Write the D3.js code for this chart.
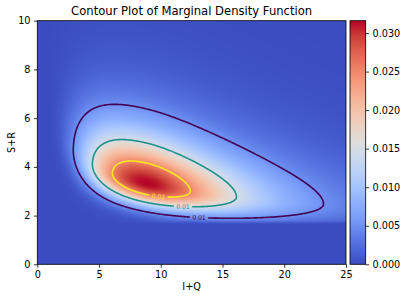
<!DOCTYPE html>
<html>
<head>
<meta charset="utf-8">
<script src="https://cdnjs.cloudflare.com/ajax/libs/d3/7.8.5/d3.min.js"></script>
<style>
  body { margin: 0; background: #fff; }
  svg text { font-family: "DejaVu Sans", sans-serif; fill: #000; }
  .axis line { stroke: #000; stroke-width: 0.8px; }
  .axis text { font-size: 9.7px; }
</style>
</head>
<body>
<script>
// axes
var xDomain = [0, 25], yDomain = [0, 10];
var xTicks = [0, 5, 10, 15, 20, 25];
var yTicks = [0, 2, 4, 6, 8, 10];
var colorTicks = [0, 0.005, 0.010, 0.015, 0.020, 0.025, 0.030];
var densityMax = 0.0316;

// density (log space): mode, spreads, ridge tilt, tail, floor cut
var logMode = [2.19, 1.198];                   // ln(I+Q), ln(S+R)
var logSpread = [0.587, 0.499, 0.342, 0.228];  // left, right, above ridge, below ridge
var ridgeSlope = -0.305;
var ridgeWiden = 0.2;                          // ridge spread grows with I+Q
var tailDf = 20;
var floorSR = [1.72, 0.03];                    // S+R of the cut, softness

var contourLevels = [0.005, 0.015, 0.025];
var contourLabels = ["0.01", "0.01", "0.02"];
var labelAt = [13.1, 11.8, 9.8];               // I+Q of each label on the lower branch

// styles
var contourColors = ["#440154", "#21918c", "#fde725"];
var coolwarm = ["#3b4cc0", "#4d68d7", "#6282ea", "#7a9df8", "#8db0fe", "#a3c2ff",
                "#b8d0f9", "#ccd9ee", "#dddddd", "#ecd3c5", "#f5c4ac", "#f7b194",
                "#f49a7b", "#ec7f63", "#de604d", "#cb3e38", "#b40426"];

var W = 405, H = 299;
var plot = {left: 37.3, top: 20.7, right: 346, bottom: 264.3};
var bar = {left: 350, right: 365.7};

var x = d3.scaleLinear().domain(xDomain).range([plot.left, plot.right]);
var y = d3.scaleLinear().domain(yDomain).range([plot.bottom, plot.top]);
var cb = d3.scaleLinear().domain([0, densityMax]).range([plot.bottom, plot.top]);
var color = d3.scaleLinear()
    .domain(coolwarm.map((d, i) => densityMax * i / (coolwarm.length - 1)))
    .range(coolwarm)
    .interpolate(d3.interpolateRgb)
    .clamp(true);

function density(xv, yv) {
  if (xv <= 0 || yv <= 0) return 0;
  var du = Math.log(xv) - logMode[0];
  var a = du / (du < 0 ? logSpread[0] : logSpread[1]);
  var res = Math.log(yv) - logMode[1] - ridgeSlope * du;
  var s = (res > 0 ? logSpread[2] : logSpread[3]) * Math.max(0.3, 1 + ridgeWiden * du);
  var b = res / s;
  var f = densityMax * Math.pow(1 + (a * a + b * b) / tailDf, -(tailDf + 2) / 2);
  return f / (1 + Math.exp(-(yv - floorSR[0]) / floorSR[1]));
}

var svg = d3.select("body").append("svg")
    .attr("width", W)
    .attr("height", H);

// heatmap, one pixel at a time
function raster(w, h, fill) {
  var canvas = document.createElement("canvas");
  canvas.width = w; canvas.height = h;
  var ctx = canvas.getContext("2d");
  var img = ctx.createImageData(w, h);
  for (var j = 0; j < h; j++) {
    for (var i = 0; i < w; i++) {
      var col = d3.rgb(fill(i, j));
      var k = 4 * (j * w + i);
      img.data[k] = col.r; img.data[k + 1] = col.g; img.data[k + 2] = col.b; img.data[k + 3] = 255;
    }
  }
  ctx.putImageData(img, 0, 0);
  return canvas.toDataURL();
}

var pw = Math.round(plot.right - plot.left), ph = Math.round(plot.bottom - plot.top);
svg.append("image")
    .attr("x", plot.left).attr("y", plot.top)
    .attr("width", plot.right - plot.left).attr("height", plot.bottom - plot.top)
    .attr("preserveAspectRatio", "none")
    .attr("href", raster(pw, ph, (i, j) => {
      var xv = x.invert(plot.left + (i + 0.5) * (plot.right - plot.left) / pw);
      var yv = y.invert(plot.top + (j + 0.5) * (plot.bottom - plot.top) / ph);
      return color(density(xv, yv));
    }));

// contour lines
var nx = 501, ny = 201;
var gx = d3.scaleLinear().domain([0, nx - 1]).range(xDomain);
var gy = d3.scaleLinear().domain([0, ny - 1]).range(yDomain);
var values = new Float64Array(nx * ny);
for (var j = 0; j < ny; j++)
  for (var i = 0; i < nx; i++)
    values[j * nx + i] = density(gx(i), gy(j));

var sets = d3.contours().size([nx, ny]).thresholds(contourLevels)(values);
var path = d3.geoPath(d3.geoTransform({
  point: function(px, py) { this.stream.point(x(gx(px - 0.5)), y(gy(py - 0.5))); }
}));

function lowerCrossing(xv, level) {
  var yy = 0;
  while (yy < 10 && density(xv, yy) < level) yy += 0.004;
  return yy;
}

var defs = svg.append("defs");
var labels = svg.append("g");

sets.forEach((set, k) => {
  var lx = labelAt[k], ly = lowerCrossing(lx, set.value);
  var p0 = [x(lx - 0.4), y(lowerCrossing(lx - 0.4, set.value))];
  var p1 = [x(lx + 0.4), y(lowerCrossing(lx + 0.4, set.value))];
  var angle = Math.atan2(p1[1] - p0[1], p1[0] - p0[0]) * 180 / Math.PI;
  var cx = x(lx), cy = y(ly);

  var t = labels.append("text")
      .attr("transform", "translate(" + cx + "," + cy + ") rotate(" + angle + ")")
      .attr("text-anchor", "middle")
      .attr("dy", "0.35em")
      .style("font-size", "6px")
      .style("fill", contourColors[k])
      .text(contourLabels[k]);
  var tw = t.node().getComputedTextLength() + 5;

  var mask = defs.append("mask").attr("id", "gap" + k).attr("maskUnits", "userSpaceOnUse")
      .attr("x", 0).attr("y", 0).attr("width", W).attr("height", H);
  mask.append("rect").attr("width", W).attr("height", H).attr("fill", "#fff");
  mask.append("rect")
      .attr("x", -tw / 2).attr("y", -5).attr("width", tw).attr("height", 10)
      .attr("transform", "translate(" + cx + "," + cy + ") rotate(" + angle + ")")
      .attr("fill", "#000");

  svg.insert("path", "g")
      .attr("d", path(set))
      .attr("fill", "none")
      .attr("stroke", contourColors[k])
      .attr("stroke-width", 1.6)
      .attr("mask", "url(#gap" + k + ")");
});

// frame
svg.append("rect")
    .attr("x", plot.left).attr("y", plot.top)
    .attr("width", plot.right - plot.left).attr("height", plot.bottom - plot.top)
    .attr("fill", "none").attr("stroke", "#000").attr("stroke-width", 0.8);

var xAxis = svg.append("g").attr("class", "axis")
    .attr("transform", "translate(0," + plot.bottom + ")")
    .call(d3.axisBottom(x).tickValues(xTicks).tickSize(3.4).tickPadding(3.4).tickFormat(d3.format("d")));
var yAxis = svg.append("g").attr("class", "axis")
    .attr("transform", "translate(" + plot.left + ",0)")
    .call(d3.axisLeft(y).tickValues(yTicks).tickSize(3.4).tickPadding(3.4).tickFormat(d3.format("d")));

// colorbar
var bh = Math.round(plot.bottom - plot.top);
svg.append("image")
    .attr("x", bar.left).attr("y", plot.top)
    .attr("width", bar.right - bar.left).attr("height", plot.bottom - plot.top)
    .attr("preserveAspectRatio", "none")
    .attr("href", raster(1, bh, (i, j) => color(cb.invert(plot.top + (j + 0.5) * (plot.bottom - plot.top) / bh))));
svg.append("rect")
    .attr("x", bar.left).attr("y", plot.top)
    .attr("width", bar.right - bar.left).attr("height", plot.bottom - plot.top)
    .attr("fill", "none").attr("stroke", "#000").attr("stroke-width", 0.8);
var cAxis = svg.append("g").attr("class", "axis")
    .attr("transform", "translate(" + bar.right + ",0)")
    .call(d3.axisRight(cb).tickValues(colorTicks).tickSize(3.4).tickPadding(3.4).tickFormat(d3.format(".3f")));

[xAxis, yAxis, cAxis].forEach(g => g.select(".domain").remove());

// titles
svg.append("text")
    .attr("x", (plot.left + plot.right) / 2).attr("y", 15)
    .attr("text-anchor", "middle")
    .style("font-size", "11.6px")
    .text("Contour Plot of Marginal Density Function");
svg.append("text")
    .attr("x", (plot.left + plot.right) / 2).attr("y", 290)
    .attr("text-anchor", "middle")
    .style("font-size", "9.7px")
    .text("I+Q");
svg.append("text")
    .attr("transform", "translate(15," + (plot.top + plot.bottom) / 2 + ") rotate(-90)")
    .attr("text-anchor", "middle")
    .style("font-size", "9.7px")
    .text("S+R");
</script>
</body>
</html>
